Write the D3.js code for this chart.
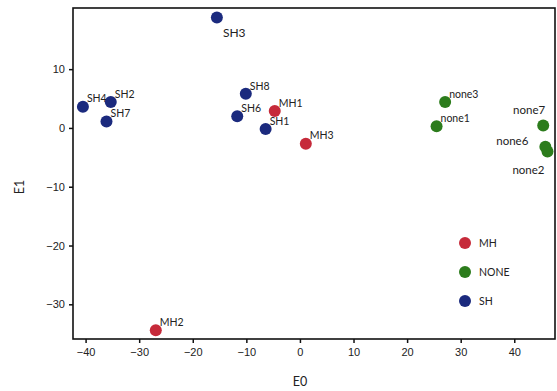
<!DOCTYPE html>
<html>
<head>
<meta charset="utf-8">
<script src="https://cdn.jsdelivr.net/npm/d3@7"></script>
<style>
  body { margin: 0; background: #fff; }
  svg { font-family: Lato, "Open Sans", sans-serif; }
</style>
</head>
<body>
<script>
// sample names, groups and coordinates
var names = ['SH1','SH2','SH3','SH4','SH6','SH7','SH8',
             'MH1','MH2','MH3',
             'none1','none2','none3','none6','none7'];
var groups = ['SH','SH','SH','SH','SH','SH','SH',
              'MH','MH','MH',
              'NONE','NONE','NONE','NONE','NONE'];
var e0 = [-6.4,-35.3,-15.5,-40.5,-11.7,-36.1,-10.1,
          -4.7,-26.9,1.1,
          25.5,46.2,27.1,45.8,45.4];
var e1 = [-0.2,4.4,18.8,3.6,2.0,1.1,5.8,
          2.9,-34.4,-2.7,
          0.3,-4.0,4.4,-3.2,0.4];
var legendKeys = ['MH','NONE','SH'];
var xTicks = [-40,-30,-20,-10,0,10,20,30,40];
var yTicks = [-30,-20,-10,0,10];

var colors = {MH: '#c62a3a', NONE: '#2c7c1c', SH: '#1b2a7e'};

// labels that were pushed away from the default spot
var nudge = {
  SH3:   {dx: 6,   dy: 15, anchor: 'start', size: 12},
  none7: {dx: 2,   dy: -16, anchor: 'end', size: 11.5},
  none6: {dx: -17, dy: -6, anchor: 'end', size: 11.5},
  none2: {dx: -3,  dy: 19, anchor: 'end', size: 11.5}
};

var width = 557, height = 391;
var margin = {left: 73, top: 8, right: 2, bottom: 52};

var svg = d3.select('body').append('svg')
    .attr('width', width)
    .attr('height', height);

var x = d3.scaleLinear().domain([-42.35, 47.6]).range([margin.left, width - margin.right]);
var y = d3.scaleLinear().domain([-35.9, 20.4]).range([height - margin.bottom, margin.top]);

var clip = svg.append('clipPath').attr('id', 'plot')
  .append('rect')
    .attr('x', margin.left)
    .attr('y', margin.top)
    .attr('width', width - margin.right - margin.left)
    .attr('height', height - margin.bottom - margin.top);

// axes
var xAxis = svg.append('g')
    .attr('transform', 'translate(0,' + (height - margin.bottom) + ')')
    .call(d3.axisBottom(x).tickValues(xTicks).tickSize(4).tickPadding(5).tickSizeOuter(0));
var yAxis = svg.append('g')
    .attr('transform', 'translate(' + margin.left + ',0)')
    .call(d3.axisLeft(y).tickValues(yTicks).tickSize(4).tickPadding(4).tickSizeOuter(0));

[xAxis, yAxis].forEach(function(a) {
  a.select('.domain').remove();
  a.selectAll('line').attr('stroke', '#111').attr('stroke-width', 1.5);
  a.selectAll('text').attr('fill', '#222').style('font-size', '11px');
});

svg.append('rect')
    .attr('x', margin.left)
    .attr('y', margin.top)
    .attr('width', width - margin.right - margin.left)
    .attr('height', height - margin.bottom - margin.top)
    .attr('fill', 'none')
    .attr('stroke', '#111')
    .attr('stroke-width', 1.6);

// points
var idx = d3.range(names.length);
var plot = svg.append('g').attr('clip-path', 'url(#plot)');

plot.selectAll('circle')
    .data(idx)
    .enter()
    .append('circle')
    .attr('cx', function(i) { return x(e0[i]); })
    .attr('cy', function(i) { return y(e1[i]); })
    .attr('r', 6)
    .attr('fill', function(i) { return colors[groups[i]]; });

svg.selectAll('text.lbl')
    .data(idx)
    .enter()
    .append('text')
    .attr('class', 'lbl')
    .attr('x', function(i) { var n = nudge[names[i]]; return x(e0[i]) + (n ? n.dx : 4); })
    .attr('y', function(i) { var n = nudge[names[i]]; return y(e1[i]) + (n ? n.dy : -8); })
    .attr('dy', '0.35em')
    .attr('text-anchor', function(i) { var n = nudge[names[i]]; return n ? n.anchor : 'start'; })
    .style('font-size', function(i) { var n = nudge[names[i]]; return (n ? n.size : 10.5) + 'px'; })
    .attr('fill', '#222')
    .text(function(i) { return names[i]; });

// legend
var legend = svg.append('g').attr('transform', 'translate(465,243)');
legend.selectAll('circle')
    .data(legendKeys)
    .enter()
    .append('circle')
    .attr('cx', 0)
    .attr('cy', function(d, i) { return i * 29; })
    .attr('r', 6)
    .attr('fill', function(d) { return colors[d]; });
legend.selectAll('text')
    .data(legendKeys)
    .enter()
    .append('text')
    .attr('x', 14)
    .attr('y', function(d, i) { return i * 29; })
    .attr('dy', '0.35em')
    .style('font-size', '10.5px')
    .attr('fill', '#222')
    .text(function(d) { return d; });

// axis titles
svg.append('text')
    .attr('x', 300)
    .attr('y', 382)
    .attr('dy', '0.35em')
    .attr('text-anchor', 'middle')
    .style('font-size', '12.5px')
    .attr('fill', '#222')
    .text('E0');
svg.append('text')
    .attr('transform', 'translate(20,187) rotate(-90)')
    .attr('dy', '0.35em')
    .attr('text-anchor', 'middle')
    .style('font-size', '12.5px')
    .attr('fill', '#222')
    .text('E1');
</script>
</body>
</html>
